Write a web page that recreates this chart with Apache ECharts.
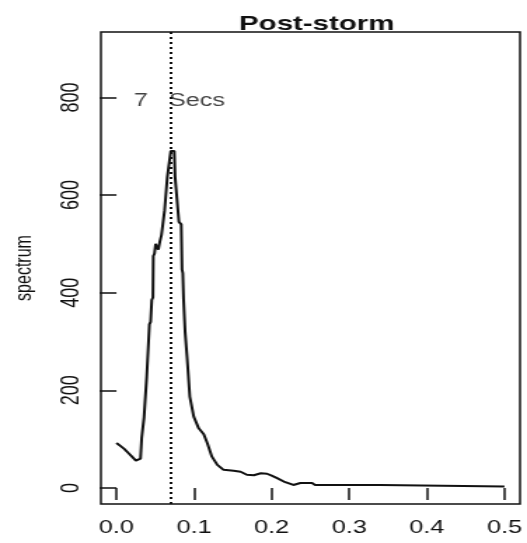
<!DOCTYPE html>
<html>
<head>
<meta charset="utf-8">
<title>Post-storm spectrum</title>
<script src="https://cdn.jsdelivr.net/npm/echarts@6/dist/echarts.min.js"></script>
<style>
  html, body { margin: 0; padding: 0; background: #fff; }
  #frame { width: 527px; height: 543px; overflow: hidden; background: #fff; }
  /* the plot is laid out narrow and widened, like the wide device it was saved from */
  #chart { width: 376px; height: 543px; transform: scaleX(1.4016); transform-origin: 0 0; }
</style>
</head>
<body>
<div id="frame"><div id="chart"></div></div>
<script>
// Frequency (cycles per sample) and raw periodogram values
const freq = [
  0.000, 0.005, 0.010, 0.015, 0.020, 0.025, 0.0285, 0.031, 0.0325, 0.034,
  0.0355, 0.038, 0.039, 0.041, 0.0425, 0.044, 0.0455, 0.047, 0.0475, 0.049,
  0.0505, 0.052, 0.054, 0.056, 0.058, 0.061, 0.062, 0.0648, 0.0655, 0.069,
  0.070, 0.0745, 0.0755, 0.079, 0.0805, 0.0835, 0.0845, 0.0855, 0.0865, 0.0885,
  0.091, 0.0945, 0.0996, 0.106, 0.1125, 0.117, 0.123, 0.130, 0.138, 0.151,
  0.160, 0.168, 0.177, 0.186, 0.194, 0.200, 0.207, 0.2156, 0.228, 0.237,
  0.252, 0.256, 0.340, 0.342, 0.500
];
const spectrum = [
  92, 86, 80, 72, 64, 56, 52, 60, 102, 104,
  144, 146, 228, 232, 335, 340, 385, 390, 475, 480,
  500, 493, 488, 505, 518, 520, 568, 572, 636, 640,
  690, 690, 638, 636, 545, 540, 447, 440, 386, 318,
  268, 187, 146, 122, 110, 92, 64, 47, 37, 35,
  33, 27, 26, 30, 29, 25, 20, 13, 6, 10,
  10, 6, 6, 3, 3
];
const peakFreq = 0.073;          // dominant frequency marker
const peakLabel = '7   Secs';
const xTicks = [0, 0.1, 0.2, 0.3, 0.4, 0.5];
const yTicks = [0, 200, 400, 600, 800];

const font = 'Liberation Sans, Arial, sans-serif';
const ink = '#111';
const chart = echarts.init(document.getElementById('chart'), null, { renderer: 'canvas' });

chart.setOption({
  animation: false,
  backgroundColor: '#fff',
  title: {
    text: 'Post-storm',
    left: 221,
    top: 9,
    textAlign: 'center',
    textStyle: { fontFamily: font, fontSize: 21, fontWeight: 'bold', color: ink }
  },
  grid: {
    left: 72, right: 5, top: 32, bottom: 39,
    show: true, borderColor: ink, borderWidth: 1.5, backgroundColor: 'transparent'
  },
  xAxis: {
    type: 'value',
    min: -0.02, max: 0.52,
    axisLine: { show: false },
    splitLine: { show: false },
    axisTick: { show: true, length: 12, customValues: xTicks, lineStyle: { color: ink, width: 1.5 } },
    axisLabel: {
      customValues: xTicks, margin: 15,
      formatter: v => v.toFixed(1),
      fontFamily: font, fontSize: 18, color: ink
    }
  },
  yAxis: {
    type: 'value',
    min: -33, max: 934,
    name: 'spectrum',
    nameLocation: 'middle',
    nameGap: 46,
    nameRotate: 90,
    nameTextStyle: { fontFamily: font, fontSize: 16, color: ink },
    axisLine: { show: false },
    splitLine: { show: false },
    axisTick: { show: true, length: 12, customValues: yTicks, lineStyle: { color: ink, width: 1.5 } },
    axisLabel: {
      customValues: yTicks, margin: 12, rotate: 90,
      fontFamily: font, fontSize: 18, color: ink
    }
  },
  series: [
    {
      type: 'line',
      data: freq.map((f, i) => [f, spectrum[i]]),
      showSymbol: false,
      lineStyle: { color: ink, width: 2 },
      markLine: {
        silent: true,
        symbol: 'none',
        label: { show: false },
        lineStyle: { color: ink, width: 2, type: [2, 3] },
        data: [{ xAxis: peakFreq }]
      }
    },
    {
      type: 'scatter',
      data: [[0.081, 792]],
      symbolSize: 1,
      itemStyle: { color: 'transparent' },
      label: {
        show: true, position: 'inside',
        formatter: peakLabel,
        fontFamily: font, fontSize: 18, color: ink
      }
    }
  ]
});
</script>
</body>
</html>
